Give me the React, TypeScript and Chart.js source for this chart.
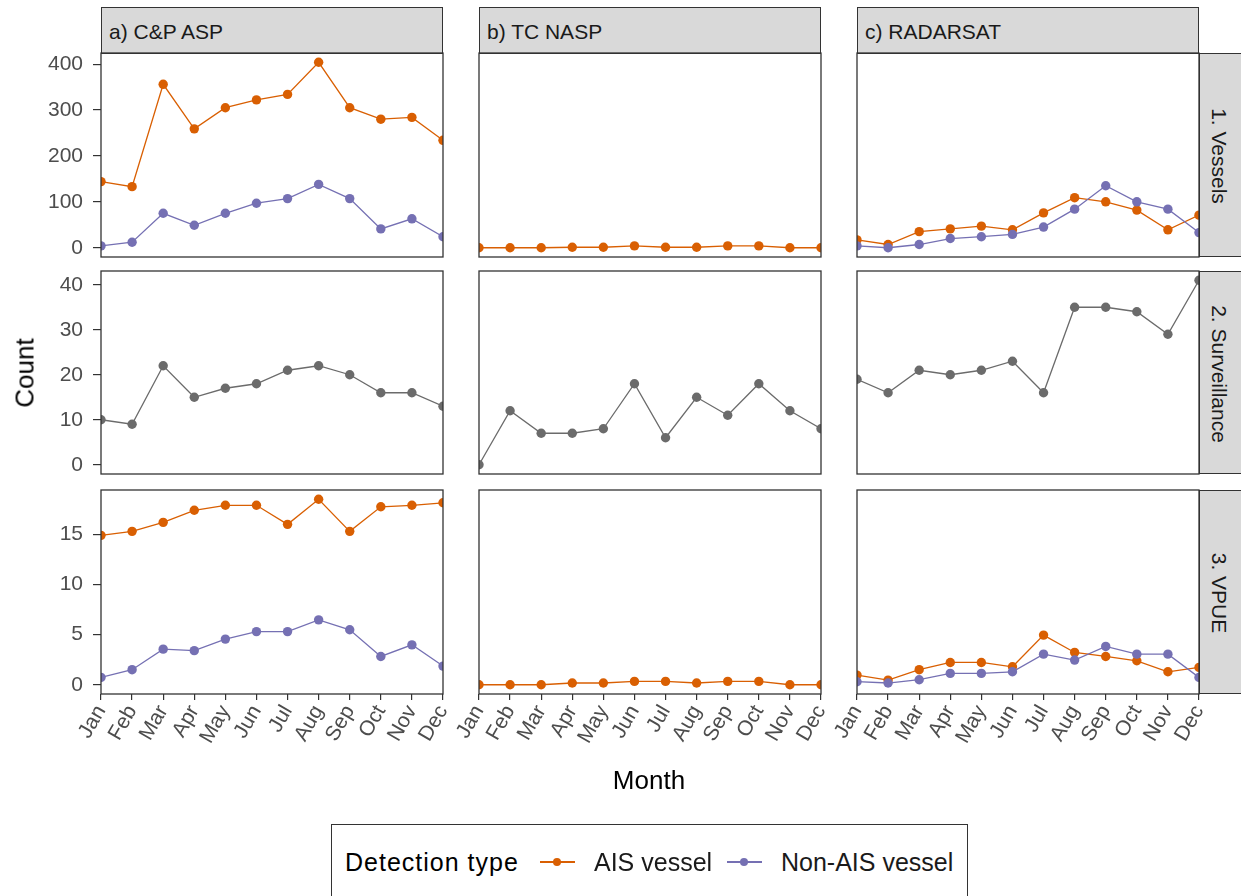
import React, { useEffect, useRef } from "react";
import { Chart, registerables } from "chart.js";

Chart.register(...registerables);

// ---------- data ----------
const months = ["Jan", "Feb", "Mar", "Apr", "May", "Jun", "Jul", "Aug", "Sep", "Oct", "Nov", "Dec"];
const platforms = ["a) C&P ASP", "b) TC NASP", "c) RADARSAT"];
const metrics = ["1. Vessels", "2. Surveillance", "3. VPUE"];
const seriesNames = ["AIS vessel", "Non-AIS vessel"];

const cpVesselsAIS = [144, 133, 356, 259, 305, 322, 334, 404, 305, 280, 284, 234];
const cpVesselsNonAIS = [4, 12, 75, 49, 75, 97, 107, 138, 107, 41, 63, 24];
const tcVesselsAIS = [0, 0, 0, 1, 1, 4, 1, 1, 4, 4, 0, 0];
const rsVesselsAIS = [17, 7, 35, 41, 47, 39, 76, 109, 100, 82, 39, 71];
const rsVesselsNonAIS = [4, 0, 7, 20, 24, 29, 45, 84, 135, 100, 84, 33];

const cpSurveillance = [10, 9, 22, 15, 17, 18, 21, 22, 20, 16, 16, 13];
const tcSurveillance = [0, 12, 7, 7, 8, 18, 6, 15, 11, 18, 12, 8];
const rsSurveillance = [19, 16, 21, 20, 21, 23, 16, 35, 35, 34, 29, 41];

const cpVpueAIS = [14.9, 15.3, 16.2, 17.4, 17.9, 17.9, 16.0, 18.5, 15.3, 17.75, 17.9, 18.15];
const cpVpueNonAIS = [0.73, 1.5, 3.55, 3.4, 4.55, 5.3, 5.3, 6.47, 5.48, 2.82, 3.98, 1.86];
const tcVpueAIS = [0, 0, 0, 0.17, 0.17, 0.33, 0.33, 0.17, 0.33, 0.33, 0, 0];
const rsVpueAIS = [0.96, 0.46, 1.5, 2.22, 2.22, 1.79, 4.95, 3.22, 2.82, 2.39, 1.29, 1.73];
const rsVpueNonAIS = [0.3, 0.17, 0.5, 1.13, 1.13, 1.29, 3.05, 2.46, 3.82, 3.05, 3.05, 0.73];

const yTicksVessels = [0, 100, 200, 300, 400];
const yTicksSurveillance = [0, 10, 20, 30, 40];
const yTicksVpue = [0, 5, 10, 15];

// ---------- styling / layout ----------
const FONT = "'Liberation Sans', Arial, Helvetica, sans-serif";
const C_AIS = "#D95F02";
const C_NON = "#7570B3";
const C_SURV = "#6B6B6B";
const C_BORDER = "#333333";

const COL_LEFT = [101, 479, 857];
const PANEL_W = 342;
const ROW_TOP = [53, 271, 490];
const PANEL_H = [204, 203, 204];
const M = 24;
const XH = 72;

type Series = { kind: "ais" | "non" | "surv"; values: number[] };

const panelSeries: Series[][][] = [
  [
    [{ kind: "non", values: cpVesselsNonAIS }, { kind: "ais", values: cpVesselsAIS }],
    [{ kind: "ais", values: tcVesselsAIS }],
    [{ kind: "non", values: rsVesselsNonAIS }, { kind: "ais", values: rsVesselsAIS }],
  ],
  [
    [{ kind: "surv", values: cpSurveillance }],
    [{ kind: "surv", values: tcSurveillance }],
    [{ kind: "surv", values: rsSurveillance }],
  ],
  [
    [{ kind: "non", values: cpVpueNonAIS }, { kind: "ais", values: cpVpueAIS }],
    [{ kind: "ais", values: tcVpueAIS }],
    [{ kind: "non", values: rsVpueNonAIS }, { kind: "ais", values: rsVpueAIS }],
  ],
];
const rowTicks = [yTicksVessels, yTicksSurveillance, yTicksVpue];

function rowRange(r: number): [number, number] {
  const all = panelSeries[r].flat().flatMap((s) => s.values);
  const lo = Math.min(...all);
  const hi = Math.max(...all);
  const pad = (hi - lo) * 0.05;
  return [lo - pad, hi + pad];
}

const colorOf = (k: string) => (k === "ais" ? C_AIS : k === "non" ? C_NON : C_SURV);

const borderPlugin = {
  id: "panelBorder",
  afterDatasetsDraw(chart: any) {
    const { ctx, chartArea } = chart;
    ctx.save();
    ctx.strokeStyle = C_BORDER;
    ctx.lineWidth = 1.3;
    ctx.strokeRect(chartArea.left, chartArea.top, chartArea.right - chartArea.left, chartArea.bottom - chartArea.top);
    ctx.restore();
  },
};

function Panel({ r, c }: { r: number; c: number }) {
  const ref = useRef<HTMLCanvasElement | null>(null);
  const showY = c === 0;
  const showX = r === 2;
  const left = showY ? 0 : COL_LEFT[c] - M;
  const width = COL_LEFT[c] + PANEL_W + M - left;
  const top = ROW_TOP[r] - M;
  const height = M + PANEL_H[r] + (showX ? XH : M);

  useEffect(() => {
    if (!ref.current) return;
    const [yMin, yMax] = rowRange(r);
    const ticks = rowTicks[r];
    const chart = new Chart(ref.current, {
      type: "line",
      data: {
        labels: months,
        datasets: panelSeries[r][c].map((s) => ({
          label: s.kind === "ais" ? seriesNames[0] : s.kind === "non" ? seriesNames[1] : "Surveillance",
          data: s.values,
          borderColor: colorOf(s.kind),
          backgroundColor: colorOf(s.kind),
          pointBackgroundColor: colorOf(s.kind),
          pointBorderWidth: 0,
          pointRadius: 4.7,
          borderWidth: 1.3,
          tension: 0,
          clip: 0,
        })),
      },
      options: {
        animation: false,
        responsive: false,
        devicePixelRatio: 1,
        layout: { padding: { left: showY ? 0 : M, right: M, top: M, bottom: showX ? 0 : M } },
        plugins: { legend: { display: false }, tooltip: { enabled: false } },
        events: [],
        scales: {
          x: {
            type: "category",
            offset: false,
            display: showX,
            border: { display: false },
            grid: { display: true, drawOnChartArea: false, drawTicks: true, tickLength: 6, color: C_BORDER, lineWidth: 1.2 },
            ticks: {
              autoSkip: false,
              maxRotation: 60,
              minRotation: 60,
              padding: 1,
              color: "#4D4D4D",
              font: { family: FONT, size: 21 },
            },
            afterFit: (s: any) => {
              if (showX) s.height = XH;
            },
          },
          y: {
            type: "linear",
            display: showY,
            min: yMin,
            max: yMax,
            border: { display: false },
            grid: { display: true, drawOnChartArea: false, drawTicks: true, tickLength: 8, color: C_BORDER, lineWidth: 1.2 },
            ticks: { padding: 10, color: "#4D4D4D", font: { family: FONT, size: 21 } },
            afterBuildTicks: (s: any) => {
              s.ticks = ticks.map((v) => ({ value: v }));
            },
            afterFit: (s: any) => {
              if (showY) s.width = COL_LEFT[0];
            },
          },
        },
      },
      plugins: [borderPlugin],
    } as any);
    return () => chart.destroy();
  }, [r, c]);

  return (
    <canvas
      ref={ref}
      width={width}
      height={height}
      style={{ position: "absolute", left, top, width, height }}
    />
  );
}

export default function App() {
  const stripBase: React.CSSProperties = {
    position: "absolute",
    background: "#D9D9D9",
    border: `1.3px solid ${C_BORDER}`,
    boxSizing: "border-box",
    color: "#1A1A1A",
    fontFamily: FONT,
    fontSize: 21,
    whiteSpace: "nowrap",
  };
  const legendItems = [
    { left: 208, color: C_AIS, text: seriesNames[0], textLeft: 262 },
    { left: 395, color: C_NON, text: seriesNames[1], textLeft: 449 },
  ];
  return (
    <div
      style={{
        position: "fixed",
        left: 0,
        top: 0,
        width: 1241,
        height: 896,
        overflow: "hidden",
        background: "#FFFFFF",
        fontFamily: FONT,
      }}
    >
      {platforms.map((p, c) => (
        <div
          key={p}
          style={{
            ...stripBase,
            left: COL_LEFT[c],
            top: 7,
            width: PANEL_W,
            height: 47,
            lineHeight: "47px",
            paddingLeft: 7,
          }}
        >
          {p}
        </div>
      ))}
      {metrics.map((m, r) => (
        <div
          key={m}
          style={{
            ...stripBase,
            left: COL_LEFT[2] + PANEL_W,
            top: ROW_TOP[r],
            width: 50,
            height: PANEL_H[r],
          }}
        >
          <div
            style={{
              position: "absolute",
              left: 19,
              top: PANEL_H[r] / 2,
              transform: "translate(-50%, -50%) rotate(90deg)",
              whiteSpace: "nowrap",
            }}
          >
            {m}
          </div>
        </div>
      ))}
      {[0, 1, 2].map((r) => [0, 1, 2].map((c) => <Panel key={`${r}-${c}`} r={r} c={c} />))}
      <div
        style={{
          position: "absolute",
          left: 25,
          top: 373,
          transform: "translate(-50%, -50%) rotate(-90deg)",
          fontSize: 26,
          color: "#000",
          whiteSpace: "nowrap",
        }}
      >
        Count
      </div>
      <div
        style={{
          position: "absolute",
          left: 649,
          top: 780,
          transform: "translate(-50%, -50%)",
          fontSize: 26,
          color: "#000",
          whiteSpace: "nowrap",
        }}
      >
        Month
      </div>
      <div
        style={{
          position: "absolute",
          left: 331,
          top: 824,
          width: 637,
          height: 100,
          border: `1.3px solid ${C_BORDER}`,
          boxSizing: "border-box",
          fontSize: 25,
          color: "#000",
        }}
      >
        <div
          style={{
            position: "absolute",
            left: 13,
            top: 37,
            transform: "translateY(-50%)",
            whiteSpace: "nowrap",
            letterSpacing: 1,
          }}
        >
          Detection type
        </div>
        {legendItems.map((it) => (
          <React.Fragment key={it.text}>
            <div style={{ position: "absolute", left: it.left, top: 36, width: 35, height: 2, background: it.color }} />
            <div
              style={{
                position: "absolute",
                left: it.left + 13,
                top: 33,
                width: 8,
                height: 8,
                borderRadius: 4,
                background: it.color,
              }}
            />
            <div
              style={{
                position: "absolute",
                left: it.textLeft,
                top: 37,
                transform: "translateY(-50%)",
                whiteSpace: "nowrap",
                color: "#1A1A1A",
              }}
            >
              {it.text}
            </div>
          </React.Fragment>
        ))}
      </div>
    </div>
  );
}
